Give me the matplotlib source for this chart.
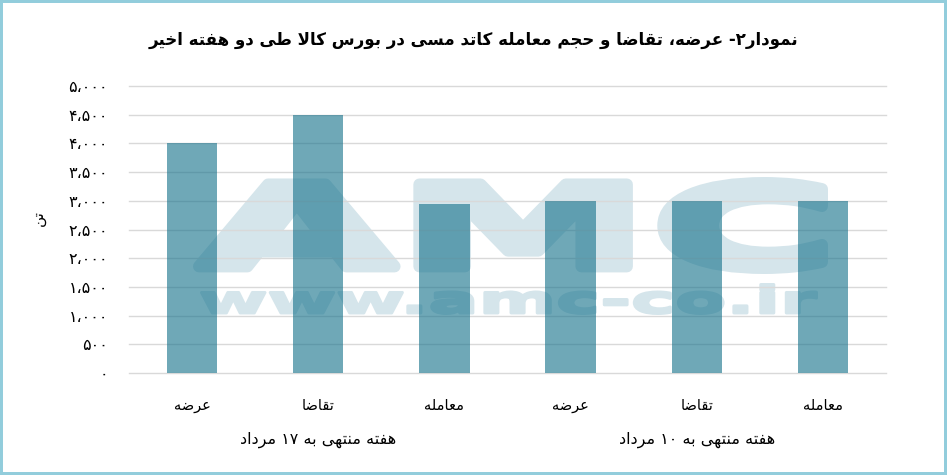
import re
import numpy as np
import matplotlib
matplotlib.use('Agg')
import matplotlib.pyplot as plt
from matplotlib.font_manager import FontProperties
from matplotlib.patches import PathPatch, Rectangle
from matplotlib.textpath import TextPath
from matplotlib.transforms import Affine2D, blended_transform_factory

title = 'نمودار۲- عرضه، تقاضا و حجم معامله کاتد مسی در بورس کالا طی دو هفته اخیر'
categories = ['عرضه', 'تقاضا', 'معامله', 'عرضه', 'تقاضا', 'معامله']
values = [4000, 4500, 2950, 3000, 3000, 3000]
groups = ['هفته منتهی به ۱۷ مرداد', 'هفته منتهی به ۱۰ مرداد']
group_size = 3
y_label = 'تن'
y_ticks = [0, 500, 1000, 1500, 2000, 2500, 3000, 3500, 4000, 4500, 5000]

W, H = 947, 475

# first code point of isolated/final/initial/medial forms
DUAL = {
    'ب': 0xFE8F, 'ت': 0xFE95, 'ث': 0xFE99, 'ج': 0xFE9D, 'ح': 0xFEA1, 'خ': 0xFEA5,
    'س': 0xFEB1, 'ش': 0xFEB5, 'ص': 0xFEB9, 'ض': 0xFEBD, 'ط': 0xFEC1, 'ظ': 0xFEC5,
    'ع': 0xFEC9, 'غ': 0xFECD, 'ف': 0xFED1, 'ق': 0xFED5, 'ل': 0xFEDD, 'م': 0xFEE1,
    'ن': 0xFEE5, 'ه': 0xFEE9, 'ک': 0xFB8E, 'گ': 0xFB92, 'ی': 0xFBFC, 'پ': 0xFB56,
    'چ': 0xFB7A,
}
RIGHT = {'ا': 0xFE8D, 'د': 0xFEA9, 'ذ': 0xFEAB, 'ر': 0xFEAD, 'ز': 0xFEAF,
         'و': 0xFEED, 'ژ': 0xFB8A, 'آ': 0xFE81}
FA_DIGITS = '۰۱۲۳۴۵۶۷۸۹'


def shape(s: str) -> str:
    out = []
    i = 0
    while i < len(s):
        c = s[i]
        joins_prev = i > 0 and s[i - 1] in DUAL
        if c == 'ل' and i + 1 < len(s) and s[i + 1] == 'ا':
            out.append('\uFEFC' if joins_prev else '\uFEFB')
            i += 2
            continue
        nxt = s[i + 1] if i + 1 < len(s) else ''
        if c in DUAL:
            joins_next = nxt in DUAL or nxt in RIGHT
            if joins_prev:
                form = 3 if joins_next else 1
            else:
                form = 2 if joins_next else 0
            out.append(chr(DUAL[c] + form))
        elif c in RIGHT:
            out.append(chr(RIGHT[c] + (1 if joins_prev else 0)))
        else:
            out.append(c)
        i += 1
    return ''.join(out)


def rtl(s: str) -> str:
    parts = re.split('([' + FA_DIGITS + ']+)', shape(s))
    return ''.join(p if p and p[0] in FA_DIGITS else p[::-1] for p in reversed(parts))


def fa_number(v: int) -> str:
    return f'{v:,}'.replace(',', '،').translate(str.maketrans('0123456789', FA_DIGITS))


def add_watermark(ax, text, box, color, fatten=0):
    # box in pixels from the top-left corner: x0, y0, x1, y1
    x0, y0, x1, y1 = box
    x0, y0, x1, y1 = x0 + fatten / 2, y0 + fatten / 2, x1 - fatten / 2, y1 - fatten / 2
    path = TextPath((0, 0), text, size=100,
                    prop=FontProperties(family='DejaVu Sans', weight='bold'))
    ext = path.get_extents()
    tr = Affine2D().translate(-ext.x0, -ext.y0) \
        .scale((x1 - x0) / ext.width, (y1 - y0) / ext.height) \
        .translate(x0, H - y1)
    patch = PathPatch(path, transform=tr, facecolor=color, edgecolor=color,
                      linewidth=fatten * 0.72, joinstyle='round',
                      zorder=0.2, clip_on=False)
    ax.add_artist(patch)


plt.rcParams['font.family'] = ['DejaVu Sans']

fig = plt.figure(figsize=(W / 100, H / 100), dpi=100)
ax = fig.add_axes([129 / W, 1 - 373 / H, (886 - 129) / W, (373 - 86) / H])

x = np.arange(len(categories))
ax.bar(x, values, width=0.4, color='#17738C', alpha=0.62, zorder=1)

ax.set_xlim(-0.5, len(categories) - 0.5)
ax.set_ylim(0, 5000)
ax.set_yticks(y_ticks)
ax.set_yticklabels([fa_number(v) for v in y_ticks], fontsize=11.5)
ax.set_xticks(x)
ax.set_xticklabels([rtl(c) for c in categories], fontsize=10.5)
ax.tick_params(axis='y', length=0, pad=15)
ax.tick_params(axis='x', length=0, pad=18)
ax.grid(axis='y', color='#D9D9D9', linewidth=1.0)
ax.set_axisbelow(True)
for line in ax.get_ygridlines():
    line.set_clip_on(False)
for s in ax.spines.values():
    s.set_visible(False)

trans = blended_transform_factory(ax.transData, ax.transAxes)
for g, name in enumerate(groups):
    xc = x[g * group_size:(g + 1) * group_size].mean()
    ax.text(xc, -0.232, rtl(name), transform=trans, ha='center', va='center',
            fontsize=11.5)

add_watermark(ax, 'AMC', (193, 177, 828, 274), '#D5E5EB', fatten=12)
add_watermark(ax, 'www.amc-co.ir', (200, 283, 818, 315), '#D5E5EB', fatten=3)

fig.text(38 / W, 1 - 218 / H, rtl(y_label), rotation=90, ha='center', va='center',
         fontsize=11)
fig.text(0.5, 1 - 40 / H, rtl(title), ha='center', va='center', fontsize=12,
         fontweight='bold')

fig.add_artist(Rectangle((0, 0), 1, 1, transform=fig.transFigure, fill=False,
                         edgecolor='#92CDDC', linewidth=4.3))

fig.savefig('out.png', dpi=100)
